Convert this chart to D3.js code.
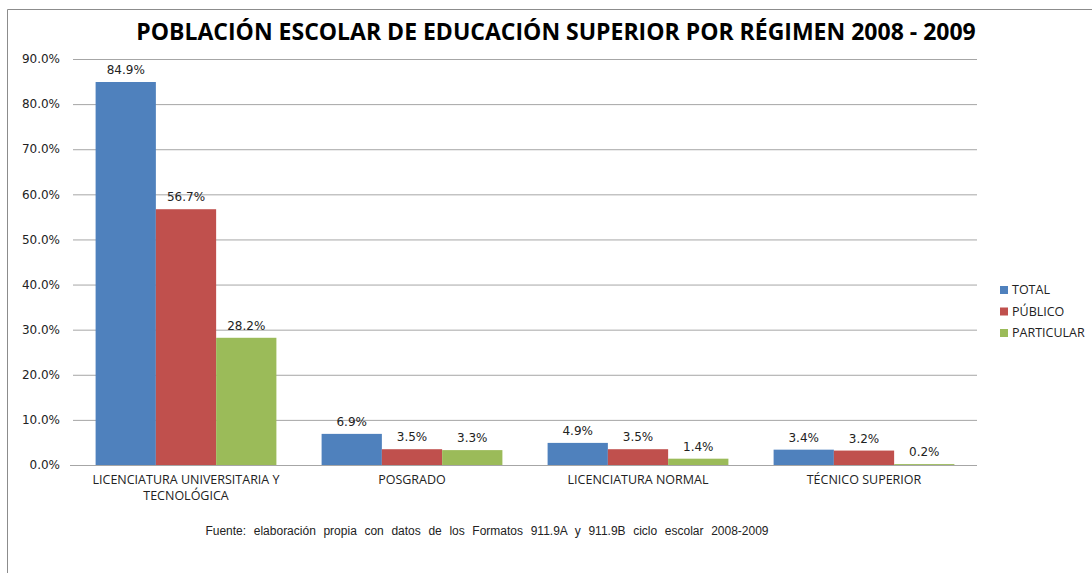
<!DOCTYPE html>
<html>
<head>
<meta charset="utf-8">
<script src="https://cdn.jsdelivr.net/npm/d3@7"></script>
<style>
  body { margin: 0; background: #fff; }
  svg { display: block; }
</style>
</head>
<body>
<div id="chart"></div>
<script>
// data
const categories = ["LICENCIATURA UNIVERSITARIA Y|TECNOLÓGICA", "POSGRADO", "LICENCIATURA NORMAL", "TÉCNICO SUPERIOR"];
const seriesNames = ["TOTAL", "PÚBLICO", "PARTICULAR"];
const seriesColors = ["#4f81bd", "#c0504d", "#9bbb59"];
const totalVals = [84.9, 6.9, 4.9, 3.4];
const publicoVals = [56.7, 3.5, 3.5, 3.2];
const particularVals = [28.2, 3.3, 1.4, 0.2];
const yTicks = [0, 10, 20, 30, 40, 50, 60, 70, 80, 90];

const W = 1092, H = 573;
const margin = {top: 59, right: 115, bottom: 108, left: 73};
const iw = W - margin.left - margin.right;
const ih = H - margin.top - margin.bottom;

const svg = d3.select('#chart').append('svg')
  .attr('width', W)
  .attr('height', H);

// outer frame (left + top visible)
svg.append('path')
  .attr('d', 'M7.5,' + H + ' V9.5 H' + W)
  .attr('fill', 'none')
  .attr('stroke', '#8c8c8c')
  .attr('stroke-width', 1);

svg.append('text')
  .attr('x', 556)
  .attr('y', 40)
  .attr('text-anchor', 'middle')
  .attr('font-family', 'Open Sans, sans-serif')
  .attr('font-weight', 'bold')
  .attr('font-size', 23)
  .attr('fill', '#000')
  .text('POBLACIÓN ESCOLAR DE EDUCACIÓN SUPERIOR POR RÉGIMEN 2008 - 2009');

const g = svg.append('g')
  .attr('transform', 'translate(' + margin.left + ' ' + margin.top + ')');

const x0 = d3.scaleBand().domain(categories).range([0, iw]).paddingInner(0.2).paddingOuter(0.1);
const x1 = d3.scaleBand().domain(seriesNames).range([0, x0.bandwidth()]);
const y = d3.scaleLinear().domain([0, 90]).range([ih, 0]);

// grid
g.append('g')
  .attr('class', 'grid')
  .call(d3.axisLeft(y).tickValues(yTicks).tickSize(-iw).tickFormat(''))
  .call(s => s.select('.domain').remove())
  .call(s => s.selectAll('line').attr('stroke', '#a6a6a6'));

// y labels
g.append('g')
  .selectAll('text')
  .data(yTicks)
  .enter().append('text')
    .attr('x', -13)
    .attr('y', d => y(d))
    .attr('dy', '0.35em')
    .attr('text-anchor', 'end')
    .attr('font-family', 'DejaVu Sans, Verdana, sans-serif')
    .attr('font-size', 12)
    .attr('fill', '#222')
    .text(d => d.toFixed(1) + '%');

const rows = categories.map((c, i) => ({
  cat: c,
  vals: [totalVals[i], publicoVals[i], particularVals[i]]
}));

const grp = g.selectAll('.grp').data(rows).enter().append('g')
  .attr('class', 'grp')
  .attr('transform', d => 'translate(' + x0(d.cat) + ' 0)');

grp.selectAll('rect')
  .data(d => d.vals.map((v, k) => ({v: v, s: seriesNames[k], k: k})))
  .enter().append('rect')
    .attr('x', d => x1(d.s))
    .attr('y', d => y(d.v))
    .attr('width', x1.bandwidth())
    .attr('height', d => ih - y(d.v))
    .attr('fill', d => seriesColors[d.k]);

grp.selectAll('.lbl')
  .data(d => d.vals.map((v, k) => ({v: v, s: seriesNames[k], k: k})))
  .enter().append('text')
    .attr('class', 'lbl')
    .attr('x', d => x1(d.s) + x1.bandwidth() / 2)
    .attr('y', d => y(d.v) - 8)
    .attr('text-anchor', 'middle')
    .attr('font-family', 'DejaVu Sans, Verdana, sans-serif')
    .attr('font-size', 12)
    .attr('fill', '#222')
    .text(d => d.v.toFixed(1) + '%');

// baseline
g.append('line')
  .attr('x1', -3).attr('x2', iw)
  .attr('y1', ih + 0.5).attr('y2', ih + 0.5)
  .attr('stroke', '#a6a6a6');

// category labels
const cl = g.selectAll('.cat').data(categories).enter().append('text')
  .attr('class', 'cat')
  .attr('x', d => x0(d) + x0.bandwidth() / 2)
  .attr('y', ih + 19)
  .attr('text-anchor', 'middle')
  .attr('font-family', 'Open Sans, sans-serif')
  .attr('font-size', 12.5)
  .attr('fill', '#222');
cl.each(function(d) {
  const parts = d.split('|');
  const t = d3.select(this);
  parts.forEach((p, i) => {
    t.append('tspan')
      .attr('x', x0(d) + x0.bandwidth() / 2)
      .attr('dy', i === 0 ? 0 : 16)
      .text(p);
  });
});

// legend
const leg = svg.append('g').attr('transform', 'translate(1000 290)');
seriesNames.forEach((s, i) => {
  leg.append('rect')
    .attr('x', 0).attr('y', i * 21.5 - 4)
    .attr('width', 8).attr('height', 8)
    .attr('fill', seriesColors[i]);
  leg.append('text')
    .attr('x', 12).attr('y', i * 21.5)
    .attr('dy', '0.35em')
    .attr('font-family', 'Open Sans, sans-serif')
    .attr('font-size', 12.5)
    .attr('fill', '#222')
    .text(s);
});

// source
svg.append('text')
  .attr('x', 487)
  .attr('y', 535)
  .attr('text-anchor', 'middle')
  .attr('font-family', 'Liberation Sans, Arial, sans-serif')
  .attr('font-size', 12)
  .attr('word-spacing', 4.3)
  .attr('fill', '#222')
  .text('Fuente: elaboración propia con datos de los Formatos 911.9A y 911.9B ciclo escolar 2008-2009');
</script>
</body>
</html>
